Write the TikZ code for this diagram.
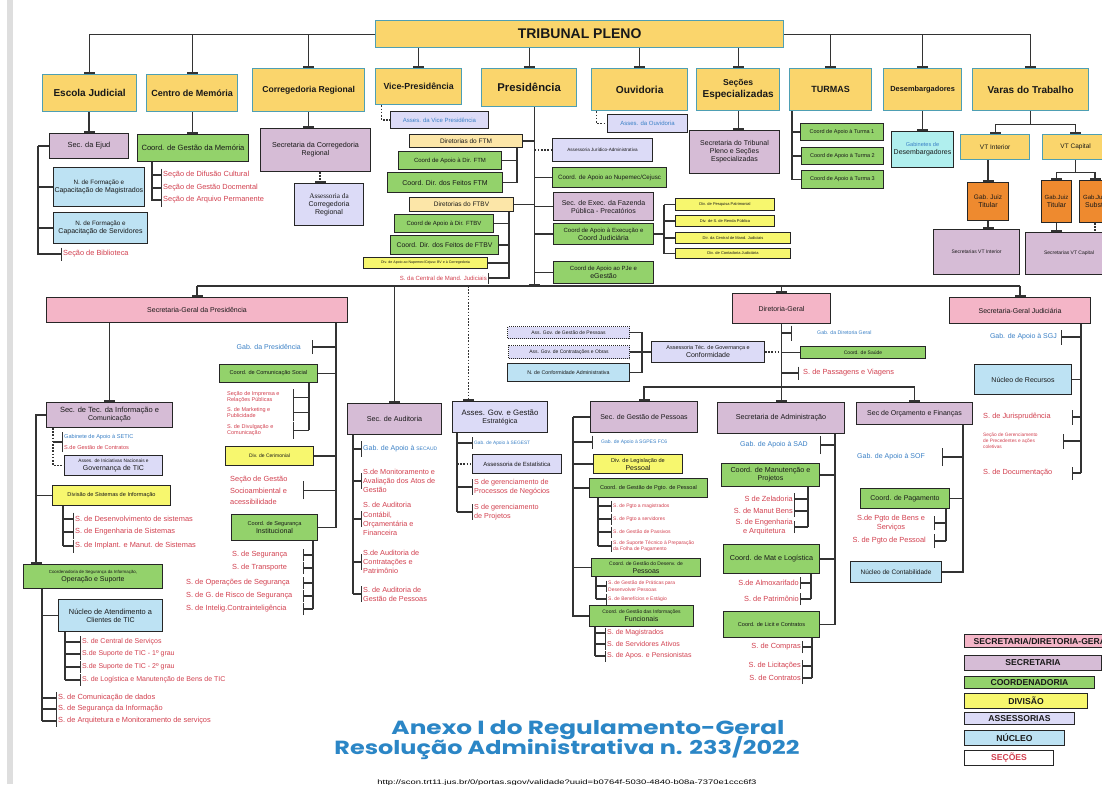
\documentclass[tikz,border=0pt]{standalone}
\usepackage{fontspec}
\usepackage{graphicx}
\setmainfont{Liberation Sans}
\newfontfamily\titlefont{Poppins}
\newfontfamily\serf{Liberation Serif}
\usetikzlibrary{arrows.meta,calc}
\definecolor{cTop}{HTML}{FAD56C}
\definecolor{cTopB}{HTML}{4E9FB3}
\definecolor{cPink}{HTML}{F4B5C7}
\definecolor{cPurp}{HTML}{D6BCD6}
\definecolor{cGreen}{HTML}{93D26B}
\definecolor{cYel}{HTML}{F7F76E}
\definecolor{cLav}{HTML}{DCDBF7}
\definecolor{cBlue}{HTML}{BDE2F3}
\definecolor{cCyan}{HTML}{B0EFEE}
\definecolor{cOr}{HTML}{EE8A2F}
\definecolor{cCream}{HTML}{FCE6A8}
\definecolor{cRed}{HTML}{D2404F}
\definecolor{cBtxt}{HTML}{3A80C6}
\definecolor{cTitle}{HTML}{2B86C6}
\definecolor{cLine}{HTML}{333333}
\newcommand\fs[2]{\fontsize{#1}{#2}\selectfont}
\newcommand\bx[7]{\node[#2,anchor=north west,minimum width={#5pt-#3pt},minimum height={#6pt-#4pt}] (#1) at (#3,#4) {#7};}
\begin{document}
\begin{tikzpicture}[x=1pt,y=-1pt,
 ln/.style={draw=cLine,line width=1.2pt},
 dl/.style={draw=cLine,line width=1.2pt,dash pattern=on 1.6pt off 1.6pt},
 tb/.style={-{Bar[width=11pt,line width=1.8pt]}},
 tbs/.style={-{Bar[width=#1,line width=1.4pt]}},
 bxs/.style={draw=black!85,line width=1pt,inner sep=1pt,align=center,font=\fs{7}{8},text=black!90},
 topb/.style={bxs,fill=cTop,draw=cTopB,line width=1.3pt,font=\bfseries},
 purp/.style={bxs,fill=cPurp},
 pnk/.style={bxs,fill=cPink},
 grn/.style={bxs,fill=cGreen},
 yel/.style={bxs,fill=cYel},
 lav/.style={bxs,fill=cLav},
 lavd/.style={bxs,fill=cLav,dash pattern=on 1pt off 1pt},
 lblu/.style={bxs,fill=cBlue},
 cyn/.style={bxs,fill=cCyan},
 orng/.style={bxs,fill=cOr},
 crm/.style={bxs,fill=cCream},
 sec/.style={text=cRed,inner sep=1pt,anchor=west,align=left,font=\fs{7.4}{9}},
 blt/.style={text=cBtxt,inner sep=1pt,anchor=west,font=\fs{7}{8.5}},
]
\useasboundingbox (0,0) rectangle (1102,784);
\clip (0,0) rectangle (1102,784);
\fill[white] (0,0) rectangle (1102,784);
\fill[black!13] (7,0) rectangle (13,784);

% ---------- top level ----------
\bx{tp}{topb}{375}{20}{783}{47}{\fs{14}{16}TRIBUNAL PLENO}
\bx{ej}{topb}{42}{74}{136}{111}{\fs{10}{12}Escola Judicial}
\bx{cm}{topb}{146}{74}{237}{111}{\fs{9}{11}Centro  de Memória}
\bx{cr}{topb}{252}{68}{364}{111}{\fs{8.6}{10}Corregedoria Regional}
\bx{vp}{topb}{375}{68}{461}{104}{\fs{8.8}{10}Vice-Presidência}
\bx{pr}{topb}{481}{68}{576}{106}{\fs{11.3}{13}Presidência}
\bx{ou}{topb}{591}{68}{687}{110}{\fs{10.2}{12}Ouvidoria}
\bx{se}{topb}{696}{68}{779}{110}{\fs{8.6}{10.5}Seções\\Especializadas}
\bx{tu}{topb}{789}{68}{871}{110}{\fs{9}{11}TURMAS}
\bx{de}{topb}{883}{68}{961}{110}{\fs{7.4}{9}Desembargadores}
\bx{vt}{topb}{972}{68}{1088}{110}{\fs{10}{12}Varas do Trabalho}
\draw[ln,tb] (tp.west) -| (ej.north);
\draw[ln,tb] (cm.north |- tp.west) -- (cm.north);
\draw[ln,tb] (cr.north |- tp.west) -- (cr.north);
\draw[ln,tb] (tp.east) -| (vt.north);
\draw[ln,tb] (tu.north |- tp.east) -- (tu.north);
\draw[ln,tb] (de.north |- tp.east) -- (de.north);
\foreach \n in {vp,pr,ou,se} \draw[ln,tb] (\n.north |- tp.south) -- (\n.north);

% ---------- Escola Judicial ----------
\bx{ejud}{purp}{49}{133}{128}{158}{\fs{7.4}{9}Sec. da Ejud}
\bx{nfm}{lblu}{53}{167}{141}{206}{\fs{6.3}{8}N. de  Formação e\\Capacitação de Magistrados}
\bx{nfs}{lblu}{53}{212}{147}{243}{\fs{6.3}{8}N. de  Formação e\\Capacitação de  Servidores}
\node[sec] (bib) at (62,254) {Seção de Biblioteca};
\draw[ln,tb] (ejud.north |- ej.south) -- (ejud.north);
\coordinate (ejS) at ([xshift=-11pt]ejud.west);
\draw[ln] (ejud.west) -- (ejS);
\draw[ln,tbs=13pt] (ejS) |- (bib.west);
\draw[ln] (ejS |- nfm.west) -- (nfm.west);
\draw[ln] (ejS |- nfs.west) -- (nfs.west);

% ---------- Centro de Memoria ----------
\bx{cgm}{grn}{137}{134}{248}{161}{\fs{7.6}{9}Coord. de Gestão da Memória}
\draw[ln,tb] (cm.south) -- (cm.south |- cgm.north);
\coordinate (cgS) at ([xshift=15pt]cgm.south west);
\node[sec] (sdc) at (162,175) {Seção de Difusão Cultural};
\node[sec] (sgd) at (162,188) {Seção de Gestão Docmental};
\node[sec] (sap) at (162,200) {Seção de Arquivo Permanente};
\draw[ln,tbs=13pt] (cgS) |- (sap.west);
\draw[ln,tbs=13pt] (cgS |- sdc.west) -- (sdc.west);
\draw[ln,tbs=13pt] (cgS |- sgd.west) -- (sgd.west);

% ---------- Corregedoria ----------
\bx{scr}{purp}{260}{128}{370}{171}{\fs{7.2}{9}Secretaria da Corregedoria\\Regional}
\bx{acr}{lav}{294}{183}{363}{225}{\serf\fs{7.2}{9.5}Assessoria da\\Corregedoria\\Regional}
\draw[ln,tb] (cr.south) -- (cr.south |- scr.north);
\coordinate (acrT) at ([xshift=-9pt]acr.north);
\draw[dl,tb] (acrT |- scr.south) -- (acrT);

% ---------- Vice ----------
\bx{avp}{lav}{390}{111}{488}{128}{\fs{6}{7}\color{cBtxt}Asses. da Vice Presidência}
\coordinate (vpD) at ([xshift=-37pt]vp.south);
\draw[dl] (vpD) |- (avp.west);

% ---------- Presidencia ----------
\coordinate (yBus) at (0,286);
\coordinate (prT) at ([xshift=5.5pt]pr.south);
\draw[ln,tb] (prT) -- (prT |- yBus);
\bx{dftm}{crm}{409}{134}{522}{147}{\fs{6.5}{8}Diretorias do FTM}
\bx{cadftm}{grn}{398}{151}{501}{169}{\fs{6}{7}Coord de Apoio à Dir. FTM}
\bx{cdfftm}{grn}{387}{172}{502}{192}{\fs{7}{8}Coord. Dir. dos Feitos FTM}
\draw[ln] (dftm.east) -- (prT |- dftm.east);
\coordinate (ftmS) at ([xshift=-6pt]dftm.south east);
\draw[ln] (ftmS) |- (cdfftm.east);
\draw[ln] (ftmS |- cadftm.east) -- (cadftm.east);
\bx{dftbv}{crm}{409}{197}{513}{211}{\fs{6.5}{8}Diretorias do  FTBV}
\draw[ln] (dftbv.east) -- (prT |- dftbv.east);
\bx{cadftbv}{grn}{394}{214}{493}{232}{\fs{6}{7}Coord de Apoio à Dir. FTBV}
\bx{cdfftbv}{grn}{390}{235}{498}{254}{\fs{6.8}{8}Coord. Dir. dos Feitos de FTBV}
\bx{dnup}{yel}{363}{257}{487}{268}{\fs{3.6}{4}Div. de Apoio ao Nupemec/Cejusc BV e à Corregedoria}
\node[sec,anchor=east,font=\fs{6}{7}] (scmj) at (488,278) {S. da Central de Mand. Judiciais};
\coordinate (ftbvS) at ([xshift=-5pt]dftbv.south east);
\draw[ln,tbs=11pt] (ftbvS) |- (scmj.east);
\foreach \n in {cadftbv,cdfftbv,dnup} \draw[ln] (ftbvS |- \n.east) -- (\n.east);

\bx{aja}{lav}{552}{138}{652}{161}{\fs{4.6}{6}Assessoria Jurídico-Administrativa}
\draw[dl] (prT |- aja.west) -- (aja.west);
\bx{cnup}{grn}{552}{167}{666}{187}{\fs{6.2}{7}Coord. de Apoio ao Nupemec/Cejusc}
\bx{sefp}{purp}{553}{192}{653}{220}{\fs{7}{8}Sec. de Exec. da Fazenda\\Pública - Precatórios}
\bx{caec}{grn}{553}{223}{653}{244}{\fs{6}{7.5}Coord de Apoio à Execução e\\Coord Judiciária}
\bx{cape}{grn}{553}{261}{653}{283}{\fs{6}{7.5}Coord de Apoio ao PJe e\\eGestão}
\foreach \n in {cnup,sefp,caec,cape} \draw[ln] (prT |- \n.west) -- (\n.west);
\bx{dpp}{yel}{675}{198}{774}{210}{\fs{4}{5}Div. de Pesquisa Patrimonial}
\bx{dsr}{yel}{675}{215}{774}{226}{\fs{4}{5}Div. de S. de Renda Pública}
\bx{dcmj}{yel}{675}{232}{790}{243}{\fs{4}{5}Dir. da Central de Mand. Judiciais}
\bx{dcj}{yel}{675}{248}{790}{258}{\fs{4}{5}Div. de Contadoria Judiciária}
\coordinate (ceS) at ([xshift=10pt]caec.east);
\draw[ln] (caec.east) -- (ceS);
\draw[ln] (ceS |- dpp.west) -- (ceS |- dcj.west);
\foreach \n in {dpp,dsr,dcmj,dcj} \draw[ln] (ceS |- \n.west) -- (\n.west);

% ---------- Ouvidoria / Secoes / Turmas / Desemb ----------
\bx{aou}{lav}{607}{114}{687}{132}{\fs{6}{7}\color{cBtxt}Asses. da Ouvidoria}
\coordinate (ouD) at ([xshift=-43pt]ou.south);
\draw[dl] (ouD) |- (aou.west);
\bx{stp}{purp}{689}{130}{779}{173}{\fs{7}{8.5}Secretaria do  Tribunal\\Pleno e Seções\\Especializadas}
\draw[ln,tb] (se.south) -- (se.south |- stp.north);
\bx{ct1}{grn}{800}{123}{883}{140}{\fs{5.5}{7}Coord de Apoio à Turma 1}
\bx{ct2}{grn}{801}{147}{883}{164}{\fs{5.5}{7}Coord de Apoio à Turma 2}
\bx{ct3}{grn}{801}{170}{883}{188}{\fs{5.5}{7}Coord de Apoio à Turma 3}
\coordinate (tuS) at ([xshift=3pt]tu.south west);
\draw[ln] (tuS) |- (ct3.west);
\draw[ln] (tuS |- ct1.west) -- (ct1.west);
\draw[ln] (tuS |- ct2.west) -- (ct2.west);
\bx{gd}{cyn}{891}{131}{953}{167}{\fs{5.6}{7.5}\color{cBtxt}Gabinetes de\\Desembargadores}
\draw[ln,tb] (de.south) -- (de.south |- gd.north);

% ---------- Varas ----------
\bx{vti}{topb}{960}{134}{1029}{159}{\mdseries\fs{6.5}{8}VT Interior}
\bx{vtc}{topb}{1042}{134}{1108}{159}{\mdseries\fs{6.5}{8}VT Capital}
\coordinate (vtJ) at ($(vt.south)+(0,13)$);
\draw[ln] (vt.south) -- (vtJ);
\draw[ln,tb] (vtJ) -| (vti.north);
\draw[ln,tb] (vtJ) -| (vtc.north);
\bx{gjt}{orng}{967}{182}{1008}{220}{\fs{6.5}{8}Gab. Juiz\\Titular}
\draw[ln,tb] (gjt.north |- vti.south) -- (gjt.north);
\bx{svi}{purp}{933}{229}{1019}{274}{\fs{5}{6}Secretarias  VT Interior}
\draw[ln,tb] (gjt.south) -- (gjt.south |- svi.north);
\coordinate (vcJ) at ($(vtc.south)+(0,12)$);
\draw[ln] (vtc.south) -- (vcJ);
\bx{gjc}{orng}{1041}{180}{1071}{222}{\fs{6}{7.5}Gab.Juiz\\Titular}
\bx{gjs}{orng}{1079}{180}{1110}{222}{\fs{6}{7.5}Gab.Juiz\\Subst.}
\draw[ln,tb] (vcJ) -| (gjc.north);
\draw[ln,tb] (vcJ) -| (gjs.north);
\bx{svc}{purp}{1025}{232}{1112}{274}{\fs{5}{6}Secretarias  VT Capital}
\draw[ln,tb] (gjc.south) -- (gjc.south |- svc.north);
\draw[dl] (gjs.south) -- (gjs.south |- svc.north);

% ---------- bus and third level ----------
\bx{sgp}{pnk}{46}{297}{347}{322}{Secretaria-Geral da Presidência}
\bx{dg}{pnk}{732}{293}{830}{323}{Diretoria-Geral}
\bx{sgj}{pnk}{949}{297}{1090}{323}{Secretaria-Geral Judiciária}
\draw[ln] (sgp.north |- yBus) -- (sgj.north |- yBus);
\draw[ln,tb] (sgp.north |- yBus) -- (sgp.north);
\draw[ln,tb] (dg.north |- yBus) -- (dg.north);
\draw[ln,tb] (sgj.north |- yBus) -- (sgj.north);

% ---------- Secretaria-Geral da Presidencia ----------
\bx{setic}{purp}{46}{402}{172}{427}{\fs{7.5}{9}Sec. de Tec. da Informação e\\Comunicação}
\draw[ln,tb] (setic.north |- sgp.south) -- (setic.north);
\coordinate (sgpR) at ([xshift=-12pt]sgp.south east);
\node[blt,anchor=east] (gpres) at (302,347) {Gab. da Presidência};
\coordinate (gpresB) at ([xshift=10pt]gpres.east);
\draw[ln,tbs=14pt] (sgpR |- gpresB) -- (gpresB);
\bx{ccs}{grn}{219}{364}{317}{382}{\fs{5.6}{7}Coord. de Comunicação Social}
\draw[ln] (sgpR |- ccs.east) -- (ccs.east);
\coordinate (ccsS) at ([xshift=-9pt]ccs.south east);
\coordinate (ccsB) at (293,0);
\node[sec,anchor=north west,font=\fs{5.5}{6.8}] (sip) at (226,390) {Seção de Imprensa e\\Relações Públicas};
\node[sec,anchor=north west,font=\fs{5.5}{6.8}] (smp) at (226,406) {S. de Marketing e\\Publicidade};
\node[sec,anchor=north west,font=\fs{5.5}{6.8}] (sdv) at (226,423) {S. de Divulgação e\\Comunicação};
\draw[ln] (ccsS) -- (ccsS |- sdv.east);
\foreach \n in {sip,smp,sdv} \draw[ln,tbs=17pt] (ccsS |- \n.east) -- (ccsB |- \n.east);
\bx{dcer}{yel}{225}{446}{313}{465}{\fs{5}{6}Div. de Cerimonial}
\draw[ln] (sgpR |- dcer.east) -- (dcer.east);
\node[sec,anchor=north west,font=\fs{7.4}{11.5}] (sgsa) at (229,475) {Seção de Gestão\\Socioambiental e\\acessibilidade};
\coordinate (sgsaB) at (303,0);
\draw[ln,tbs=18pt] (sgpR |- sgsa.east) -- (sgsaB |- sgsa.east);
\bx{cseg}{grn}{231}{514}{317}{540}{\fs{5.6}{7}Coord. de Segurança\\Institucional}
\draw[ln] (sgpR) |- (cseg.east);
\coordinate (csgS) at ([xshift=-5pt]cseg.south east);
\coordinate (csgB) at (303,0);
\node[sec] (ss1) at (231,555) {S. de Segurança};
\node[sec] (ss2) at (231,568) {S. de Transporte};
\node[sec] (ss3) at (185,583) {S. de Operações de Segurança};
\node[sec] (ss4) at (185,596) {S. de G. de Risco de Segurança};
\node[sec] (ss5) at (185,609) {S. de Intelig.Contrainteligência};
\draw[ln] (csgS) -- (csgS |- ss5.west);
\foreach \n in {ss1,ss2,ss3,ss4,ss5} \draw[ln,tbs=12pt] (csgS |- \n.west) -- (csgB |- \n.west);

% SETIC subtree
\coordinate (stD) at ([xshift=7pt]setic.south west);
\node[blt,font=\fs{5.6}{7}] (gset) at (63,437) {Gabinete de Apoio à SETIC};
\node[sec,font=\fs{5.6}{7}] (sgc) at (63,447) {S.de Gestão de Contratos};
\coordinate (gm) at ($(gset.west)!0.5!(sgc.west)$);
\bx{aint}{lav}{64}{455}{162}{475}{\fs{4.8}{6}Asses. de Iniciativas Nacionais e\\Governança de TIC}
\draw[dl] (stD) |- (aint.west);
\draw[ln,tbs=20pt] (stD |- gm) -- (gm);
\coordinate (stL) at ([xshift=-10pt]setic.west);
\bx{dsi}{yel}{52}{485}{170}{505}{\fs{5.6}{7}Divisão de Sistemas de Informação}
\bx{csio}{grn}{23}{564}{162}{588}{\fs{4.4}{5.6}Coordenadoria de Segurança da Informação,\\Operação e Suporte}
\coordinate (csioT) at ([xshift=13pt]csio.north west);
\draw[ln,tb] (setic.west) -| (csioT);
\draw[ln] (stL |- dsi.west) -- (dsi.west);
\coordinate (dsiS) at ([xshift=11pt]dsi.south west);
\node[sec] (sd1) at (74,519) {S. de Desenvolvimento de sistemas};
\node[sec] (sd2) at (74,532) {S. de Engenharia de Sistemas};
\node[sec] (sd3) at (74,546) {S. de Implant. e Manut. de Sistemas};
\draw[ln] (dsiS) -- (dsiS |- sd3.west);
\foreach \n in {sd1,sd2,sd3} \draw[ln,tbs=13pt] (dsiS |- \n.west) -- (\n.west);
\coordinate (csS) at ([xshift=19pt]csio.south west);
\bx{nat}{lblu}{58}{599}{162}{631}{\fs{7.4}{9}Núcleo de Atendimento a\\Clientes de TIC}
\draw[ln] (csS |- nat.west) -- (nat.west);
\coordinate (natS) at ([xshift=7pt]nat.south west);
\node[sec,font=\fs{7}{8}] (sn1) at (81,642) {S. de Central de Serviços};
\node[sec,font=\fs{7}{8}] (sn2) at (81,654) {S.de Suporte de TIC - 1º grau};
\node[sec,font=\fs{7}{8}] (sn3) at (81,667) {S.de Suporte de TIC - 2º grau};
\node[sec,font=\fs{7}{8}] (sn4) at (81,680) {S. de Logística e Manutenção de Bens de TIC};
\draw[ln] (natS) -- (natS |- sn4.west);
\foreach \n in {sn1,sn2,sn3,sn4} \draw[ln,tbs=12pt] (natS |- \n.west) -- (\n.west);
\node[sec] (sc1) at (57,698) {S. de Comunicação de dados};
\node[sec] (sc2) at (57,709) {S. de Segurança da Informação};
\node[sec] (sc3) at (57,721) {S. de Arquitetura e Monitoramento de serviços};
\draw[ln] (csS) -- (csS |- sc3.west);
\foreach \n in {sc1,sc2,sc3} \draw[ln,tbs=12pt] (csS |- \n.west) -- (\n.west);

% ---------- Auditoria ----------
\bx{sau}{purp}{347}{403}{441}{434}{\fs{7.2}{9}Sec. de Auditoria}
\draw[ln,tb] (sau.north |- yBus) -- (sau.north);
\coordinate (sauS) at ([xshift=6pt]sau.south west);
\node[blt] (gsau) at (362,449) {Gab. de Apoio à {\fs{5}{6}SECAUD}};
\node[sec,font=\fs{7.3}{9.2}] (sa1) at (362,481) {S.de Monitoramento e\\Avaliação dos Atos de\\Gestão};
\node[sec,font=\fs{7.3}{9.2}] (sa2) at (362,519) {S. de Auditoria\\Contábil,\\Orçamentária e\\Financeira};
\node[sec,font=\fs{7.3}{9.2}] (sa3) at (362,562) {S.de Auditoria de\\Contratações e\\Patrimônio};
\node[sec,font=\fs{7.3}{9.2}] (sa4) at (362,594) {S. de Auditoria de\\Gestão de Pessoas};
\draw[ln] (sauS) -- (sauS |- sa4.west);
\foreach \n in {gsau,sa1,sa2,sa3,sa4} \draw[ln,tbs=16pt] (sauS |- \n.west) -- (\n.west);

% ---------- Asses. Gov. ----------
\bx{agg}{lav}{452}{401}{547}{432}{\fs{7.8}{9.5}Asses. Gov. e Gestão\\Estratégica}
\coordinate (aggT) at ([xshift=-31.5pt]agg.north);
\draw[dl,tb] (aggT |- yBus) -- (aggT);
\coordinate (aggS) at ([xshift=5pt]agg.south west);
\node[blt,font=\fs{4.8}{6}] (gseg) at (473,443) {Gab. de Apoio à SEGEST};
\bx{aest}{lav}{472}{454}{561}{473}{\fs{6}{7}Assessoria  de Estatística}
\node[sec,font=\fs{7.2}{9}] (sgpn) at (473,487) {S de gerenciamento de\\Processos de Negócios};
\node[sec,font=\fs{7.2}{9}] (sgpj) at (473,512) {S de gerenciamento\\de Projetos};
\draw[ln] (aggS) -- (aggS |- sgpj.west);
\draw[ln,tbs=12pt] (aggS |- gseg.west) -- (gseg.west);
\draw[dl] (aggS |- aest.west) -- (aest.west);
\draw[ln,tbs=16pt] (aggS |- sgpn.west) -- (sgpn.west);
\draw[ln,tbs=16pt] (aggS |- sgpj.west) -- (sgpj.west);

% ---------- Governanca ----------
\bx{agp}{lavd}{507}{326}{629}{338}{\fs{5}{6}Ass. Gov. de Gestão de Pessoas}
\bx{agc}{lavd}{508}{345}{629}{358}{\fs{5}{6}Ass. Gov. de Contratações e Obras}
\bx{nca}{lblu}{507}{363}{629}{381}{\fs{5.3}{6}N. de Conformidade Administrativa}
\bx{atgc}{lav}{651}{341}{764}{362}{\fs{5.5}{7}Assessoria Téc. de Governança  e\\Conformidade}
\coordinate (govB) at (642,0);
\draw[ln] (agp.east) -- (govB |- agp.east) -- (govB |- nca.east) -- (nca.east);
\draw[ln] (agc.east) -- (atgc.west);

% ---------- Diretoria-Geral ----------
\bx{sgpes}{purp}{590}{401}{697}{432}{\fs{7}{8.5}Sec. de Gestão de Pessoas}
\bx{sad}{purp}{717}{402}{844}{433}{\fs{7.2}{9}Secretaria de Administração}
\bx{sof}{purp}{856}{402}{972}{424}{\fs{7}{8.5}Sec de Orçamento e Finanças}
\coordinate (dgH) at ($(dg.south)+(0,63)$);
\draw[ln,tb] (dg.south) -- (dg.south |- sad.north);
\draw[ln,tb] (dgH) -| (sgpes.north);
\draw[ln,tb] (dgH) -| (sof.north);
\draw[dl] (atgc.east) -- (dg.south |- atgc.east);
\node[blt,font=\fs{5.2}{6}] (gdg) at (816,333) {Gab. da Diretoria Geral};
\coordinate (gdgB) at ([xshift=-24pt]gdg.west);
\draw[ln,tbs=15pt] (dg.south |- gdgB) -- (gdgB);
\bx{csau}{grn}{800}{346}{925}{358}{\fs{5}{6}Coord. de Saúde}
\draw[ln] (dg.south |- csau.west) -- (csau.west);
\node[sec] (spv) at (802,373) {S. de Passagens e Viagens};
\coordinate (spvB) at ([xshift=-3pt]spv.west);
\draw[ln,tbs=13pt] (dg.south |- spvB) -- (spvB);

% SGPES
\coordinate (gpS) at ([xshift=-17pt]sgpes.west);
\draw[ln] (sgpes.west) -- (gpS);
\node[blt,font=\fs{5}{6}] (gsgp) at (600,442) {Gab. de Apoio à SGPES  FC6};
\coordinate (gsgpB) at ([xshift=-7pt]gsgp.west);
\draw[ln,tbs=13pt] (gpS |- gsgpB) -- (gsgpB);
\bx{dlp}{yel}{593}{454}{682}{473}{\fs{5.6}{7}Div. de Legislação  de\\Pessoal}
\bx{cgpp}{grn}{589}{478}{707}{497}{\fs{5.6}{7}Coord.  de  Gestão de Pgto. de Pessoal}
\bx{cgdp}{grn}{591}{558}{700}{576}{\fs{5}{6.2}Coord. de Gestão do Desenv. de\\Pessoas}
\bx{cgif}{grn}{589}{605}{693}{626}{\fs{5}{6.2}Coord. de Gestão das Informações\\Funcionais}
\draw[ln] (gpS) |- (cgif.west);
\foreach \n in {dlp,cgpp,cgdp} \draw[ln] (gpS |- \n.west) -- (\n.west);
\coordinate (cgppS) at ([xshift=9pt]cgpp.south west);
\node[sec,font=\fs{5}{6}] (sp1) at (612,506) {S. de Pgto a magistrados};
\node[sec,font=\fs{5}{6}] (sp2) at (612,519) {S. de Pgto a servidores};
\node[sec,font=\fs{5}{6}] (sp3) at (612,532) {S. de Gestão de Passivos};
\node[sec,font=\fs{5}{6}] (sp4) at (612,546) {S. de Suporte Técnico à Preparação\\da Folha de Pagamento};
\draw[ln] (cgppS) -- (cgppS |- sp4.west);
\foreach \n in {sp1,sp2,sp3,sp4} \draw[ln,tbs=11pt] (cgppS |- \n.west) -- (\n.west);
\coordinate (cgdpS) at ([xshift=5pt]cgdp.south west);
\node[sec,font=\fs{5}{6.5}] (sg1) at (607,586) {S. de Gestão de Práticas para\\Desenvolver Pessoas};
\node[sec,font=\fs{5}{6}] (sg2) at (607,599) {S. de Benefícios e Estágio};
\draw[ln] (cgdpS) -- (cgdpS |- sg2.west);
\foreach \n in {sg1,sg2} \draw[ln,tbs=11pt] (cgdpS |- \n.west) -- (\n.west);
\coordinate (cgifS) at ([xshift=6pt]cgif.south west);
\node[sec,font=\fs{7}{8}] (si1) at (606,633) {S. de Magistrados};
\node[sec,font=\fs{7}{8}] (si2) at (606,644) {S. de Servidores Ativos};
\node[sec,font=\fs{7}{8}] (si3) at (606,656) {S. de Apos. e Pensionistas};
\draw[ln] (cgifS) -- (cgifS |- si3.west);
\foreach \n in {si1,si2,si3} \draw[ln,tbs=11pt] (cgifS |- \n.west) -- (\n.west);

% SAD
\coordinate (sadS) at ([xshift=-10pt]sad.south east);
\node[blt,anchor=east] (gsad) at (809,445) {Gab. de Apoio à SAD};
\coordinate (gsadB) at ([xshift=11pt]gsad.east);
\draw[ln,tbs=18pt] (sadS |- gsadB) -- (gsadB);
\bx{cmp}{grn}{721}{463}{819}{486}{\fs{7.2}{9}Coord. de Manutenção e\\Projetos}
\bx{cml}{grn}{723}{544}{819}{573}{\fs{7.2}{9}Coord. de Mat e Logística}
\bx{clc}{grn}{723}{611}{819}{637}{\fs{5.6}{7}Coord. de Licit e Contratos}
\draw[ln] (sadS) |- (clc.east);
\draw[ln] (sadS |- cmp.east) -- (cmp.east);
\draw[ln] (sadS |- cml.east) -- (cml.east);
\coordinate (cmpS) at ([xshift=-12pt]cmp.south east);
\node[sec,anchor=east] (sm1) at (794,499) {S de Zeladoria};
\node[sec,anchor=east] (sm2) at (794,511) {S. de Manut Bens};
\node[sec,anchor=east,align=center] (sm3) at (794,527) {S. de  Engenharia\\e Arquitetura};
\draw[ln] (cmpS) -- (cmpS |- sm3.east);
\foreach \n in {sm1,sm2,sm3} \draw[ln,tbs=12pt] (cmpS |- \n.east) -- (\n.east);
\coordinate (cmlS) at ([xshift=-9pt]cml.south east);
\node[sec,anchor=east] (sl1) at (800,583) {S.de Almoxarifado};
\node[sec,anchor=east] (sl2) at (800,599) {S. de Patrimônio};
\draw[ln] (cmlS) -- (cmlS |- sl2.east);
\foreach \n in {sl1,sl2} \draw[ln,tbs=12pt] (cmlS |- \n.east) -- (\n.east);
\coordinate (clcS) at ([xshift=-8pt]clc.south east);
\node[sec,anchor=east] (sk1) at (802,647) {S. de Compras};
\node[sec,anchor=east] (sk2) at (802,666) {S. de Licitações};
\node[sec,anchor=east] (sk3) at (802,678) {S. de Contratos};
\draw[ln] (clcS) -- (clcS |- sk3.east);
\foreach \n in {sk1,sk2,sk3} \draw[ln,tbs=12pt] (clcS |- \n.east) -- (\n.east);

% SOF
\coordinate (sofS) at ([xshift=-10pt]sof.south east);
\node[blt] (gsof) at (856,457) {Gab. de Apoio à SOF};
\coordinate (gsofB) at (942,0);
\draw[ln,tbs=18pt] (sofS |- gsof.west) -- (gsofB |- gsof.west);
\bx{cpag}{grn}{860}{488}{949}{508}{\fs{7}{8.5}Coord. de Pagamento}
\bx{ncont}{lblu}{850}{561}{941}{582}{\fs{6.5}{8}Núcleo de Contabilidade}
\draw[ln] (sofS) |- (ncont.east);
\draw[ln] (sofS |- cpag.east) -- (cpag.east);
\coordinate (cpS) at ([xshift=-4pt]cpag.south east);
\coordinate (cpB) at (934,0);
\node[sec,anchor=center,align=center] (sb1) at (891,523) {S.de Pgto de Bens e\\Serviços};
\node[sec,anchor=east] (sb2) at (927,541) {S. de Pgto de Pessoal};
\draw[ln] (cpS) -- (cpS |- sb2.east);
\draw[ln,tbs=14pt] (cpS |- sb1.east) -- (cpB |- sb1.east);
\draw[ln,tbs=14pt] (cpS |- sb2.east) -- (cpB |- sb2.east);

% ---------- Secretaria-Geral Judiciaria ----------
\coordinate (sgjS) at ([xshift=-10pt]sgj.south east);
\node[blt,anchor=east] (gsgj) at (1058,337) {Gab. de Apoio à SGJ};
\coordinate (sgjB1) at ([xshift=3pt]gsgj.east);
\draw[ln,tbs=15pt] (sgjS |- sgjB1) -- (sgjB1);
\bx{nrec}{lblu}{974}{364}{1071}{394}{\fs{7}{8.5}Núcleo de Recursos}
\draw[ln] (sgjS |- nrec.east) -- (nrec.east);
\node[sec] (sjur) at (982,417) {S. de Jurisprudência};
\node[sec,font=\fs{4.8}{6}] (sgpc) at (982,441) {Seção de Gerenciamento\\de Precedentes e ações\\coletivas};
\node[sec] (sdoc) at (982,473) {S. de Documentação};
\coordinate (sgjB) at (1072,0);
\coordinate (sgjB2) at (1063,0);
\draw[ln] (sgjS) -- (sgjS |- sdoc.west);
\draw[ln,tbs=15pt] (sgjS |- sjur.west) -- (sgjB |- sjur.west);
\draw[ln,tbs=15pt] (sgjS |- sgpc.west) -- (sgjB2 |- sgpc.west);
\draw[ln,tbs=13pt] (sgjS |- sdoc.west) -- (sgjB |- sdoc.west);

% ---------- legend ----------
\bx{lg1}{pnk}{964}{634}{1120}{647}{\bfseries\fs{8.6}{9}SECRETARIA/DIRETORIA-GERAL}
\bx{lg2}{purp}{964}{655}{1101}{670}{\bfseries\fs{8.6}{9}SECRETARIA}
\bx{lg3}{grn}{964}{676}{1094}{688}{\bfseries\fs{8.6}{9}COORDENADORIA}
\bx{lg4}{yel}{964}{693}{1087}{708}{\bfseries\fs{8.6}{9}DIVISÃO}
\bx{lg5}{lav}{964}{712}{1074}{724}{\bfseries\fs{8.6}{9}ASSESSORIAS}
\bx{lg6}{lblu}{964}{730}{1064}{745}{\bfseries\fs{8.6}{9}NÚCLEO}
\bx{lg7}{bxs,fill=white}{964}{750}{1053}{765}{\bfseries\fs{8.6}{9}\color{cRed}SEÇÕES}

% ---------- title ----------
\node[text=cTitle,inner sep=0,anchor=base] (t1) at (588,734) {\resizebox{393pt}{\height}{\titlefont\bfseries\fs{19}{22}Anexo I do Regulamento-Geral}};
\node[text=cTitle,inner sep=0,anchor=base] (t2) at (567,754) {\resizebox{465pt}{\height}{\titlefont\bfseries\fs{19}{22}Resolução Administrativa n. 233/2022}};
\node[inner sep=0,anchor=base] (url) at (567,784) {\resizebox{379pt}{\height}{\fs{6.5}{7}http://scon.trt11.jus.br/0/portas.sgov/validade?uuid=b0764f-5030-4840-b08a-7370e1ccc6f3}};
\end{tikzpicture}
\end{document}
